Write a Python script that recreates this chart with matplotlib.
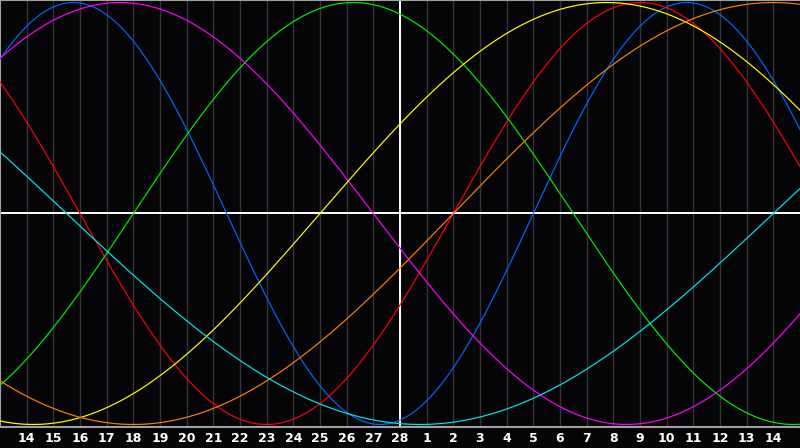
import matplotlib
matplotlib.use("Agg")
import matplotlib.pyplot as plt
import numpy as np

# day labels along the bottom (end of one month, February with 28 days, start of next)
day_labels = list(range(14, 29)) + list(range(1, 15))

# biorhythm cycles: period in days and the day (chart position) where the curve rises through zero
cycle_names = ["physical", "emotional", "intellectual", "intuitive", "aesthetic", "awareness", "spiritual"]
periods = [23, 28, 33, 38, 43, 48, 53]
zero_up = [20, 17, 5, 33, 12, 17, 29]
colors = ["#0066ff", "#ff0000", "#00ee00", "#ff00ff", "#ffff00", "#ff8000", "#00e8e8"]

W, H = 800, 448
plot_h = 427

fig = plt.figure(figsize=(W / 100, H / 100), dpi=100)
fig.patch.set_facecolor("#050508")
ax = fig.add_axes([0, 1 - plot_h / H, 1, plot_h / H])
ax.set_facecolor("#050508")

n_days = len(day_labels) + 1
ax.set_xlim(0, n_days)
ax.set_ylim(-1.012, 1.012)

# vertical day lines
for k in range(1, n_days):
    ax.axvline(k, color="#343438", lw=1, zorder=1)

# curves
x = np.linspace(0, n_days, 1601)
for P, x0, c in zip(periods, zero_up, colors):
    ax.plot(x, np.sin(2 * np.pi * (x - x0) / P), color=c, lw=0.85, zorder=3)

# center cross
ax.axhline(0, color="white", lw=1.4, zorder=2)
ax.axvline(n_days / 2, color="white", lw=1.4, zorder=2)

ax.set_xticks([])
ax.set_yticks([])
for s in ["left", "top", "bottom"]:
    ax.spines[s].set_color("#a0a0a0")
    ax.spines[s].set_linewidth(1.5)
ax.spines["right"].set_visible(False)

# day numbers under the plot
for k, lab in enumerate(day_labels, start=1):
    ax.text(k, -1.035, str(lab), color="white", fontsize=9, fontweight="bold",
            ha="center", va="top", clip_on=False, fontfamily="DejaVu Sans")

fig.savefig("out.png", dpi=100, facecolor=fig.get_facecolor())
